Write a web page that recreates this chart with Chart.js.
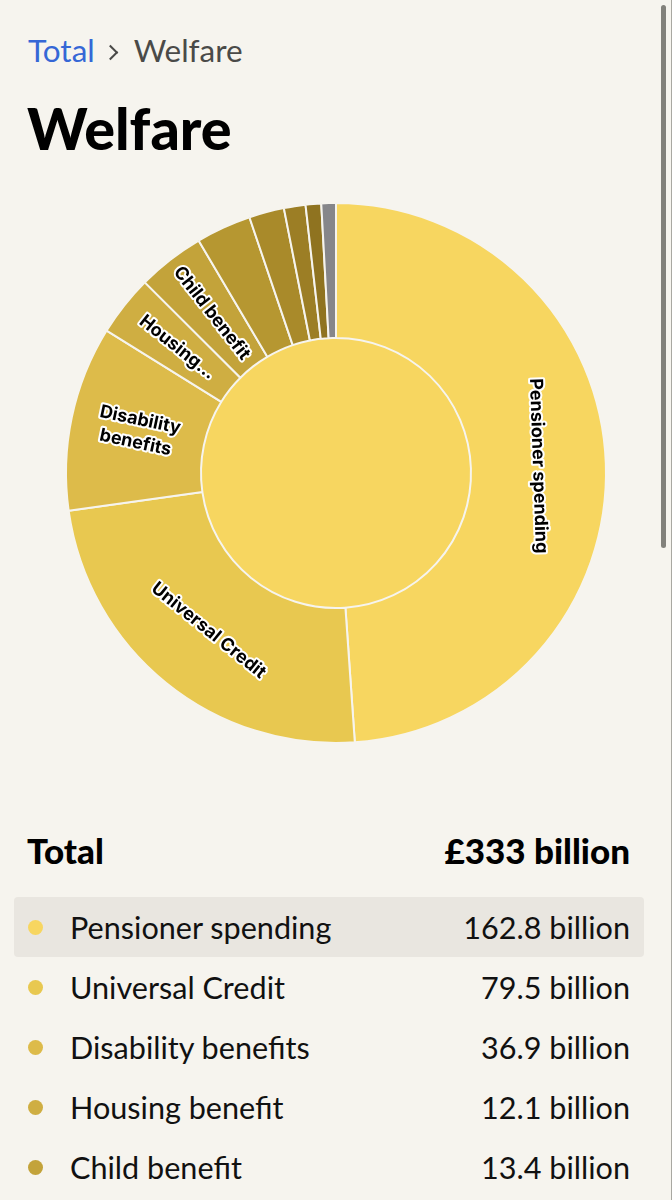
<!DOCTYPE html>
<html>
<head>
<meta charset="utf-8">
<script src="https://cdn.jsdelivr.net/npm/chart.js@4"></script>
<style>
  html, body { margin: 0; padding: 0; background: #f6f4ee; }
  body { width: 672px; height: 1200px; position: relative; overflow: hidden; font-family: Lato, sans-serif; color: #0a0a0a; }
  .crumb { position: absolute; left: 28px; top: 32px; font-size: 31.5px; line-height: 36px; color: #4a4a48; white-space: nowrap; }
  .crumb a { color: #3567d6; }
  .crumb .sep { display: inline-block; width: 39px; height: 20px; position: relative; }
  .crumb .sep::after { content: ""; position: absolute; left: 10px; top: 5px; width: 9px; height: 9px; border-top: 2px solid #4a4a48; border-right: 2px solid #4a4a48; transform: rotate(45deg); }
  h1 { position: absolute; left: 27px; top: 94px; margin: 0; font-size: 57.5px; line-height: 68px; font-weight: 900; color: #000; }
  #wrap { position: absolute; left: 56px; top: 193px; width: 560px; height: 560px; }
  .total { position: absolute; left: 27px; right: 42px; top: 829px; display: flex; justify-content: space-between; font-size: 35px; line-height: 42px; font-weight: 900; color: #000; }
  #rows { position: absolute; left: 14px; top: 897px; width: 630px; }
  .row { height: 60px; display: flex; align-items: center; font-size: 30.6px; border-radius: 4px; color: #111; }
  .row.on { background: #e9e6e0; }
  .row i { width: 15px; height: 15px; border-radius: 50%; margin-left: 14px; margin-right: 27px; flex: none; }
  .row span { flex: 1; }
  .row b { font-weight: 400; margin-right: 14px; }
  #bar { position: absolute; left: 661px; top: 5px; width: 5px; height: 543px; border-radius: 3px; background: #82817b; }
  #edge { position: absolute; left: 671px; top: 0; width: 1px; height: 1200px; background: #a9a8a2; }
</style>
</head>
<body>
<div class="crumb"><a>Total</a><span class="sep"></span>Welfare</div>
<h1>Welfare</h1>
<div id="wrap"><canvas id="chart" width="560" height="560"></canvas></div>
<div class="total"><span>Total</span><span>£333 billion</span></div>
<div id="rows"></div>
<div id="bar"></div>
<div id="edge"></div>
<script>
const categories = ["Pensioner spending", "Universal Credit", "Disability benefits", "Housing benefit", "Child benefit", "Other 1", "Other 2", "Other 3", "Other 4", "Other 5"];
const values = [162.8, 79.5, 36.9, 12.1, 13.4, 11.0, 7.0, 4.3, 3.1, 2.9];
const colours = ["#f7d660", "#e8c850", "#ddbb4a", "#cfae42", "#c3a33a", "#b69731", "#a98a2a", "#9c7e25", "#8f7320", "#86868a"];
const sliceLabels = [["Pensioner spending"], ["Universal Credit"], ["Disability", "benefits"], ["Housing..."], ["Child benefit"], [], [], [], [], []];
const innerValues = [333];
const innerColours = ["#f7d660"];
const listedRows = 5;
const bg = "#f6f4ee";

// rows under the chart
const rows = document.getElementById("rows");
for (let i = 0; i < listedRows; i++) {
  rows.innerHTML += `<div class="row${i == 0 ? " on" : ""}"><i style="background:${colours[i]}"></i><span>${categories[i]}</span><b>${values[i]} billion</b></div>`;
}

// labels: large slices run along the ring, small ones point at the centre
const ringLabels = {
  id: "ringLabels",
  afterDatasetsDraw(chart) {
    const ctx = chart.ctx;
    const meta = chart.getDatasetMeta(0);
    meta.data.forEach((arc, i) => {
      const lines = sliceLabels[i];
      if (!lines.length) return;
      const p = arc.getProps(["x", "y", "startAngle", "endAngle", "innerRadius", "outerRadius"], true);
      const mid = (p.startAngle + p.endAngle) / 2;
      const r = (p.innerRadius + p.outerRadius) / 2;
      const span = p.endAngle - p.startAngle;
      let rot = span > 1 ? mid + Math.PI / 2 : mid;
      if (Math.cos(rot) < 0) rot += Math.PI;
      ctx.save();
      ctx.translate(p.x + Math.cos(mid) * r, p.y + Math.sin(mid) * r);
      ctx.rotate(rot);
      ctx.font = "700 18px Inter, sans-serif";
      ctx.textAlign = "center";
      ctx.textBaseline = "middle";
      ctx.lineJoin = "round";
      lines.forEach((t, n) => {
        const y = (n - (lines.length - 1) / 2) * 23;
        ctx.lineWidth = 4;
        ctx.strokeStyle = "#ffffff";
        ctx.strokeText(t, 0, y);
        ctx.fillStyle = "#000000";
        ctx.fillText(t, 0, y);
      });
      ctx.restore();
    });
  }
};

new Chart(document.getElementById("chart"), {
  type: "doughnut",
  data: {
    labels: categories,
    datasets: [
      { data: values, backgroundColor: colours, borderColor: bg, borderWidth: 2, weight: 1 },
      { data: innerValues, backgroundColor: innerColours, borderColor: bg, borderWidth: 0, weight: 1 }
    ]
  },
  options: {
    responsive: false,
    animation: false,
    cutout: 0,
    layout: { padding: 9 },
    plugins: { legend: { display: false }, tooltip: { enabled: false } }
  },
  plugins: [ringLabels]
});
</script>
</body>
</html>
